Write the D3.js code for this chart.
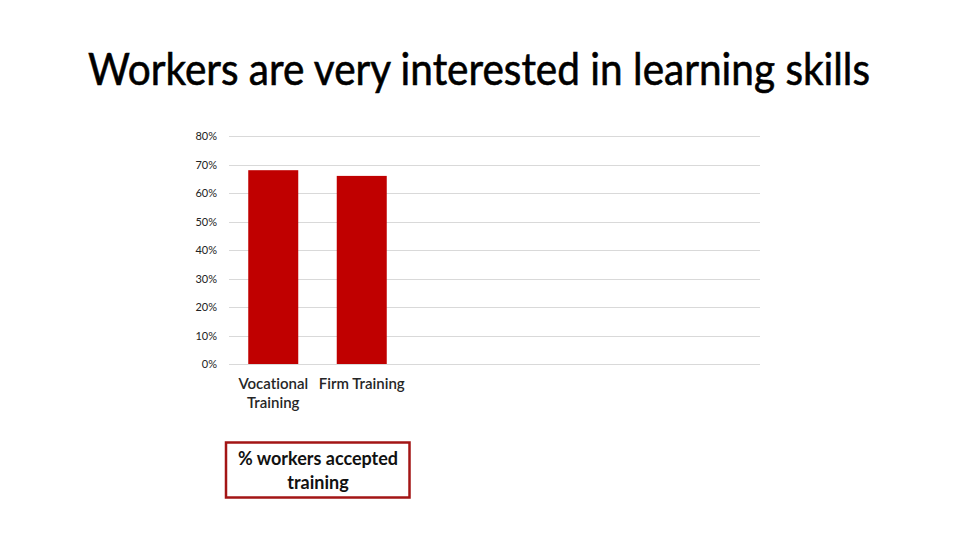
<!DOCTYPE html>
<html>
<head>
<meta charset="utf-8">
<script src="https://cdn.jsdelivr.net/npm/d3@7"></script>
<style>
  html, body { margin: 0; padding: 0; background: #fff; }
  svg { display: block; }
  text { font-variant-ligatures: none; font-feature-settings: "liga" 0; }
</style>
</head>
<body>
<svg id="chart" width="960" height="540"></svg>
<script>
// ---- data ----
const titleText = "Workers are very interested in learning skills";
const categories = [["Vocational", "Training"], ["Firm Training"], [], [], [], []];
const values = [0.68, 0.66, null, null, null, null];
const yTicks = [0, 0.1, 0.2, 0.3, 0.4, 0.5, 0.6, 0.7, 0.8];
const noteLines = ["% workers accepted", "training"];

// ---- layout ----
const svg = d3.select("#chart");
const plot = { left: 229, right: 760, top: 136, bottom: 364 };
const font = "Lato, 'Open Sans', 'DejaVu Sans', sans-serif";

svg.append("text")
  .attr("x", 88).attr("y", 85)
  .attr("font-family", font)
  .attr("font-size", 44)
  .attr("fill", "#000")
  .attr("stroke", "#000")
  .attr("stroke-width", 0.6)
  .attr("textLength", 782)
  .attr("lengthAdjust", "spacingAndGlyphs")
  .text(titleText);

const x = d3.scaleBand()
  .domain(d3.range(categories.length))
  .range([plot.left, plot.right])
  .paddingInner(0.435)
  .paddingOuter(0.2175);

const y = d3.scaleLinear()
  .domain([0, 0.8])
  .range([plot.bottom, plot.top]);

// gridlines
svg.append("g")
  .selectAll("line")
  .data(yTicks)
  .join("line")
  .attr("x1", plot.left).attr("x2", plot.right)
  .attr("y1", d => Math.round(y(d)) + 0.5)
  .attr("y2", d => Math.round(y(d)) + 0.5)
  .attr("stroke", "#d9d9d9")
  .attr("stroke-width", 1);

// y axis labels
const yAxis = d3.axisLeft(y).tickValues(yTicks).tickFormat(d3.format(".0%")).tickSize(0).tickPadding(12);
const ya = svg.append("g").attr("transform", `translate(${plot.left},0)`).call(yAxis);
ya.select(".domain").remove();
ya.selectAll("text")
  .attr("font-family", font)
  .attr("font-size", 11)
  .attr("fill", "#222");

// bars
svg.append("g")
  .selectAll("rect")
  .data(values.map((v, i) => ({ v, i })).filter(d => d.v != null))
  .join("rect")
  .attr("x", d => x(d.i))
  .attr("width", x.bandwidth())
  .attr("y", d => y(d.v))
  .attr("height", d => y(0) - y(d.v))
  .attr("fill", "#C00000");

// category labels
const cat = svg.append("g");
categories.forEach((lines, i) => {
  const t = cat.append("text")
    .attr("x", x(i) + x.bandwidth() / 2)
    .attr("y", 389)
    .attr("text-anchor", "middle")
    .attr("font-family", font)
    .attr("font-size", 15)
    .attr("font-weight", 600)
    .attr("fill", "#262626");
  lines.forEach((l, j) => {
    t.append("tspan")
      .attr("x", x(i) + x.bandwidth() / 2)
      .attr("dy", j === 0 ? 0 : 19)
      .text(l);
  });
});

// note box
svg.append("rect")
  .attr("x", 226).attr("y", 442.5)
  .attr("width", 183.5).attr("height", 55)
  .attr("fill", "#fff")
  .attr("stroke", "#A31515")
  .attr("stroke-width", 2.5);

const note = svg.append("text")
  .attr("x", 318).attr("y", 465)
  .attr("text-anchor", "middle")
  .attr("font-family", font)
  .attr("font-size", 18)
  .attr("font-weight", 700)
  .attr("fill", "#111");
noteLines.forEach((l, j) => {
  note.append("tspan").attr("x", 318).attr("dy", j === 0 ? 0 : 24).text(l);
});
</script>
</body>
</html>
